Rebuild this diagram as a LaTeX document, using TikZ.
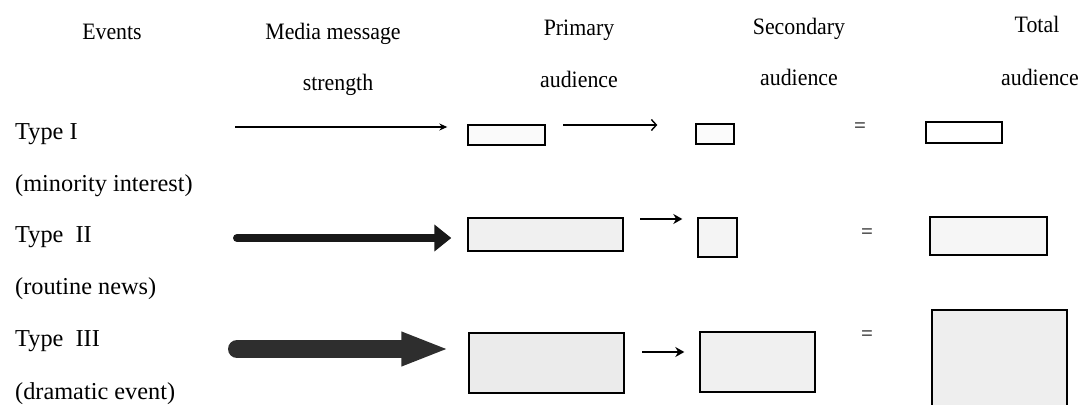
\documentclass[tikz,border=0pt]{standalone}
\usepackage{fontspec}
\usepackage{graphicx}
\setmainfont{Liberation Serif}
\usetikzlibrary{arrows.meta}
\newcommand\condtxt[1]{\scalebox{0.93}[1]{#1}}
\begin{document}
\begin{tikzpicture}[x=1pt,y=-1pt,
  hdr/.style={font=\fontsize{23.5}{26}\selectfont, anchor=base, inner sep=0pt},
  lbl/.style={font=\fontsize{24.3}{26}\selectfont, anchor=base west, inner sep=0pt},
  eq/.style={font=\fontsize{21}{24}\selectfont, inner sep=0pt},
  box/.style={draw=black, line width=1.4pt, inner sep=0pt, minimum width=#1},
  thinarrow/.style={line width=1.2pt, -{Stealth[length=8pt,width=7pt]}},
  openarrow/.style={line width=1.2pt, -{Straight Barb[length=5pt,width=11pt,line width=1.4pt]}},
  smallarrow/.style={line width=2pt, -{Stealth[length=9pt,width=10pt]}}
]
\useasboundingbox (0,0) rectangle (1078,404);
% headers
\node[hdr] (h1) at (112,40) {\condtxt{Events}};
\node[hdr] (h2) at (333,40) {\condtxt{Media message}};
\node[hdr] (h2b) at (338,90) {\condtxt{strength}};
\node[hdr] (h3) at (579,36) {\condtxt{Primary}};
\node[hdr] (h3b) at (579,87) {\condtxt{audience}};
\node[hdr] (h4) at (799,35) {\condtxt{Secondary}};
\node[hdr] (h4b) at (799,85) {\condtxt{audience}};
\node[hdr] (h5) at (1037,33) {\condtxt{Total}};
\node[hdr] (h5b) at (1040,85) {\condtxt{audience}};
% left labels
\node[lbl] (l1) at (15,139) {Type I};
\node[lbl] (l1b) at (15,191) {(minority interest)};
\node[lbl] (l2) at (15,242) {Type\ \ II};
\node[lbl] (l2b) at (15,294) {(routine news)};
\node[lbl] (l3) at (15,346) {Type\ \ III};
\node[lbl] (l3b) at (15,399) {(dramatic event)};
% row 1
\node[box=77pt, minimum height=20pt, fill=gray!4] (P1) at (506.5,135) {};
\node[box=38pt, minimum height=20pt, fill=gray!3] (S1) at (715,134) {};
\node[eq] (E1) at (860,128) {=};
\node[box=76pt, minimum height=21pt, fill=white] (T1) at (964,132.5) {};
\coordinate (a1) at (235,127);
\draw[thinarrow] (a1) -- ([xshift=-20pt]a1 -| P1.west);
\coordinate (b1) at (563,125);
\draw[openarrow] (b1) -- ([xshift=-38pt]b1 -| S1.west);
% row 2
\node[box=155pt, minimum height=33pt, fill=gray!12] (P2) at (545.5,234.5) {};
\node[box=39pt, minimum height=39pt, fill=gray!9] (S2) at (717.5,237.5) {};
\node[eq] (E2) at (867,234) {=};
\node[box=117pt, minimum height=38pt, fill=gray!7] (T2) at (988.5,236) {};
\coordinate (a2) at (237,238);
\draw[line width=8pt, line cap=round, draw=black!90, -{Triangle[length=17pt,width=26pt]}] (a2) -- ([xshift=-16pt]a2 -| P2.west);
\coordinate (b2) at (640,219);
\draw[smallarrow] (b2) -- ([xshift=-15pt]b2 -| S2.west);
% row 3
\node[box=155pt, minimum height=60pt, fill=gray!16] (P3) at (546.5,363) {};
\node[box=115pt, minimum height=60pt, fill=gray!12] (S3) at (757.5,362) {};
\node[eq] (E3) at (867,336) {=};
\node[box=135pt, minimum height=100pt, fill=gray!13] (T3) at (999.5,360) {};
\coordinate (a3) at (237,349);
\draw[line width=18pt, line cap=round, draw=black!82, -{Triangle[length=48pt,width=31pt, fill=black!82]}] (a3) -- ([xshift=-19pt]a3 -| P3.west);
\coordinate (b3) at (642,352);
\draw[smallarrow] (b3) -- ([xshift=-15pt]b3 -| S3.west);
\end{tikzpicture}
\end{document}
